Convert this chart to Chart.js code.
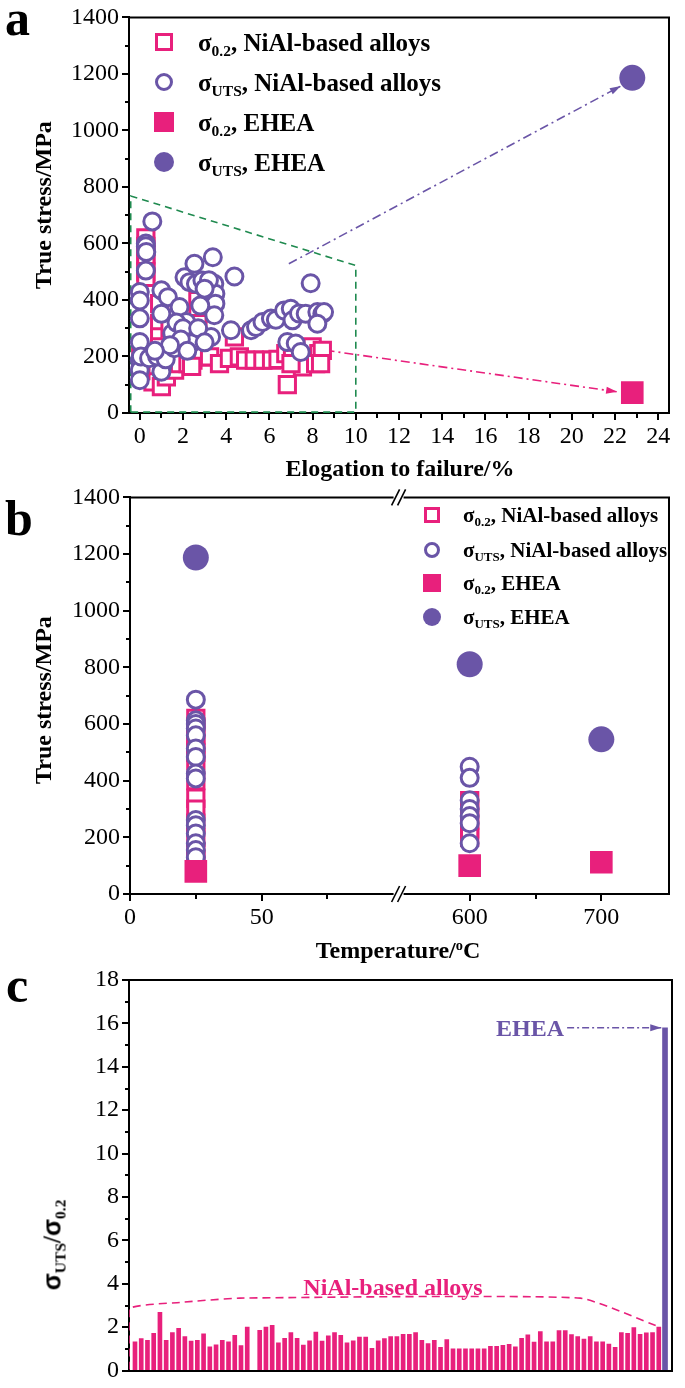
<!DOCTYPE html>
<html>
<head>
<meta charset="utf-8">
<script src="https://cdn.jsdelivr.net/npm/chart.js@4.4.0/dist/chart.umd.min.js"></script>
<style>
  body { margin: 0; background: #fff; }
  #fig { position: relative; width: 685px; height: 1388px; overflow: hidden;
         font-family: "Liberation Serif", "Times New Roman", serif; }
  canvas { position: absolute; left: 0; }
  .txt { position: absolute; white-space: nowrap; font-weight: bold; line-height: 1; }
  .panel { font-size: 50px; }
  .ytitle { font-size: 24px; transform: translate(-50%, -50%) rotate(-90deg); }
  .xtitle { font-size: 24px; transform: translate(-50%, -50%); }
  .row { transform: translateY(-50%); }
  .sans { font-family: "Liberation Sans", Arial, sans-serif; }
  sub { font-size: 0.62em; vertical-align: baseline; position: relative; top: 0.32em; }
  sup { font-size: 0.6em; vertical-align: baseline; position: relative; top: -0.55em; }
  .mk { position: absolute; box-sizing: border-box; transform: translate(-50%, -50%); }
</style>
</head>
<body>
<div id="fig">
  <canvas id="chartA" width="685" height="460" style="top:0"></canvas>
  <canvas id="chartB" width="685" height="460" style="top:480px"></canvas>
  <canvas id="chartC" width="685" height="428" style="top:960px"></canvas>

  <div class="txt panel" style="left:5px;top:-7px">a</div>
  <div class="txt panel" style="left:5px;top:493px">b</div>
  <div class="txt panel" style="left:6px;top:960px">c</div>

  <div class="txt ytitle" style="left:43px;top:205px">True stress/MPa</div>
  <div class="txt xtitle" style="left:400px;top:468px">Elogation to failure/%</div>
  <div class="txt ytitle" style="left:43px;top:700px">True stress/MPa</div>
  <div class="txt xtitle" style="left:398px;top:950px">Temperature/<sup>o</sup>C</div>
  <div class="txt ytitle" style="left:52px;top:1245px;font-size:25px"><span class="sans">σ</span><sub>UTS</sub>/<span class="sans">σ</span><sub>0.2</sub></div>

  <div class="txt xtitle" style="left:393px;top:1287px;color:#e8207c">NiAl-based alloys</div>
  <div class="txt xtitle" style="left:530px;top:1028px;color:#6a55a7">EHEA</div>
</div>

<script>
// ===== colours =====
const PINK = '#e8207c';
const PURPLE = '#6a55a7';
const GREEN = '#1f8a4f';
const FONT = '"Liberation Serif", "Times New Roman", serif';

// ===== panel a: elongation (%) vs true stress (MPa) =====
const yieldElongA = [0.28, 0.28, 0.28, 0.28, 0.28, 0.28, 0.61, 1.0, 1.23, 1.61, 1.84, 2.23, 2.46, 2.61,
  0.92, 0.92, 0.92, 0.92, 2.69, 2.69, 2.69, 2.9, 2.9, 3.23, 3.69, 4.15, 4.61, 4.38, 2.4,
  4.9, 5.3, 5.7, 6.1, 6.4, 6.76, 7.07, 7.45, 7.68, 7.98, 8.29, 8.45, 6.83, 7.53, 8.14, 8.37, 7.0,
  0.05, 0.05, 1.4, 2.0];
const yieldStressA = [620, 590, 560, 530, 500, 480, 110, 93, 128, 152, 175, 175, 187, 205,
  387, 316, 269, 234, 398, 352, 316, 234, 199, 199, 175, 193, 199, 269, 165,
  187, 187, 187, 187, 190, 210, 193, 222, 187, 234, 210, 222, 100, 163, 175, 175, 175,
  150, 200, 300, 250];
const utsElongA = [0.0, 0.0, 0.0, 0.0, 0.0, 0.0, 0.0, 0.05, 0.28, 0.28, 0.3, 0.28, 0.58, 0.43,
  1.0, 1.3, 1.0, 1.06, 1.0, 0.8, 1.2, 1.5, 1.6, 1.84, 2.15, 2.38, 2.07, 2.3, 2.53, 2.6, 2.9,
  3.38, 3.45, 3.5, 3.5, 3.45, 3.3, 4.22, 4.38,
  5.15, 5.38, 5.68, 6.07, 6.3, 6.68, 6.99, 7.07, 7.37, 7.68, 7.91, 8.22, 8.45, 8.53, 8.22, 6.83, 7.22, 7.45,
  1.7, 2.0, 1.9, 2.7, 2.2, 3.0, 1.4, 0.7, 2.8, 3.2, 3.0];
const utsStressA = [428, 398, 335, 251, 187, 152, 116, 200, 600, 590, 570, 504, 678, 194,
  434, 410, 351, 169, 146, 200, 190, 282, 229, 375, 322, 247, 480, 463, 528, 457, 469,
  551, 457, 422, 387, 346, 269, 293, 483,
  293, 304, 322, 334, 330, 363, 369, 328, 352, 351, 459, 357, 351, 357, 316, 251, 246, 216,
  320, 300, 260, 300, 220, 250, 240, 220, 380, 470, 440];
const eheaElongA = [22.8];
const eheaYieldA = [72];
const eheaUtsA = [1186];
// guide lines of panel a (elongation, stress)
const boxElongA = [-0.42, -0.42, 10, 10, -0.42];
const boxStressA = [3, 768, 522, 3, 3];
const utsArrowElong = [6.9, 22.27];
const utsArrowStress = [528, 1157];
const yieldArrowElong = [8.6, 22.1];
const yieldArrowStress = [222, 75];
const xTicksA = [0, 2, 4, 6, 8, 10, 12, 14, 16, 18, 20, 22, 24];
const yTicksStress = [0, 200, 400, 600, 800, 1000, 1200, 1400];

// ===== panel b: temperature (°C) vs true stress (MPa) =====
const tempsB = [25, 600, 700];
const eheaYieldB = [80, 100, 112];
const eheaUtsB = [1188, 811, 546];
const nialYieldRT = [620, 590, 560, 530, 500, 470, 400, 338, 300, 250, 200, 150, 120];
const nialUtsRT = [686, 613, 600, 584, 560, 514, 484, 425, 408, 261, 243, 214, 179, 155, 130];
const nialYield600 = [330, 300, 260, 230, 200];
const nialUts600 = [449, 410, 331, 300, 275, 250, 179];
const xTicksB = [0, 25, 50, 75, 600, 650, 700];
const xTickLabelsB = ['0', '', '50', '', '600', '', '700'];

// ===== panel c: sigma_UTS / sigma_0.2 =====
const ratioNiAl = [1.33, 1.48, 1.40, 1.72, 2.69, 1.40, 1.75, 1.95, 1.57, 1.36, 1.40, 1.70, 1.09, 1.19, 1.40,
  1.33, 1.63, 1.15, 2.00, null,
  1.86, 2.00, 2.09, 1.28, 1.49, 1.75, 1.49, 1.18, 1.37, 1.77, 1.36, 1.60, 1.75, 1.63, 1.28, 1.37,
  1.55, 1.55, 1.03, 1.37, 1.48, 1.57, 1.57, 1.67, 1.67,
  1.75, 1.39, 1.25, 1.40, 1.07, 1.43, 1.0, 1.0, 1.0, 1.0, 1.0, 1.0, 1.12, 1.12, 1.17, 1.21, 1.09,
  1.49, 1.65, 1.31, 1.80, 1.33, 1.33, 1.84, 1.84, 1.66, 1.57, 1.45, 1.57, 1.33, 1.33, 1.22, 1.07,
  1.75, 1.72, 1.98, 1.67, 1.74, 1.75, 2.01];
const ratioEHEA = [15.8];
const envelopeIdx = [-0.96, -0.96, 7.2, 16.8, 71.4, 84.2];
const envelopeRatio = [0.05, 2.84, 3.14, 3.34, 3.34, 2.0];
const eheaArrowIdx = [69.3, 84.4];
const eheaArrowRatio = [15.8, 15.8];
const yTicksRatio = [0, 2, 4, 6, 8, 10, 12, 14, 16, 18];

// legends (label html)
const legendLabels = [
  'σ<sub>0.2</sub>, NiAl-based alloys',
  'σ<sub>UTS</sub>, NiAl-based alloys',
  'σ<sub>0.2</sub>, EHEA',
  'σ<sub>UTS</sub>, EHEA'
];

// ===== helpers =====
const pairs = (xs, ys) => xs.map((x, i) => ({ x: x, y: ys[i] }));

// broken temperature axis: 0-102 full scale, 546-750 half scale
const BREAK_U = 102;
function tMap(t) {
  return t <= BREAK_U ? t : BREAK_U + (t - 546) * 0.5;
}

function stepsBetween(majors, minorStep) {
  const out = [];
  const lo = majors[0], hi = majors[majors.length - 1];
  for (let v = lo; v <= hi + 1e-9; v += minorStep) out.push(Math.round(v * 1000) / 1000);
  return out;
}

function yAxis(min, max, majors, minorStep, width) {
  const all = stepsBetween(majors, minorStep);
  return {
    type: 'linear', position: 'left', min: min, max: max,
    afterFit: s => { s.width = width; },
    afterBuildTicks: s => { s.ticks = all.map(v => ({ value: v })); },
    ticks: {
      autoSkip: false, color: '#000', padding: 3,
      font: { family: FONT, size: 24 },
      callback: v => majors.includes(v) ? String(v) : ''
    },
    grid: {
      drawOnChartArea: false, color: '#000', lineWidth: 2, tickLength: 7,
      tickBorderDash: ctx => (ctx.tick && !majors.includes(ctx.tick.value)) ? [0, 3, 4, 30] : []
    },
    border: { color: '#000', width: 2 }
  };
}

const framePlugin = {
  id: 'frame',
  afterDraw(chart) {
    const { ctx, chartArea: a } = chart;
    ctx.save();
    ctx.strokeStyle = '#000';
    ctx.lineWidth = 2;
    ctx.beginPath();
    ctx.moveTo(a.left - 1, a.top);
    ctx.lineTo(a.right, a.top);
    ctx.lineTo(a.right, a.bottom + 1);
    ctx.stroke();
    ctx.restore();
  }
};

const arrowPlugin = {
  id: 'arrows',
  afterDatasetsDraw(chart) {
    const ctx = chart.ctx;
    chart.data.datasets.forEach((ds, i) => {
      if (!ds.arrow) return;
      const pts = chart.getDatasetMeta(i).data;
      const p1 = pts[pts.length - 2], p2 = pts[pts.length - 1];
      const ang = Math.atan2(p2.y - p1.y, p2.x - p1.x);
      const L = 11, W = 3.5;
      const c = Math.cos(ang), s = Math.sin(ang);
      ctx.save();
      ctx.fillStyle = ds.borderColor;
      ctx.beginPath();
      ctx.moveTo(p2.x, p2.y);
      ctx.lineTo(p2.x - L * c - W * s, p2.y - L * s + W * c);
      ctx.lineTo(p2.x - L * c + W * s, p2.y - L * s - W * c);
      ctx.closePath();
      ctx.fill();
      ctx.restore();
    });
  }
};

const breakPlugin = {
  id: 'axisBreak',
  afterDraw(chart) {
    const { ctx, chartArea: a } = chart;
    const bx = chart.scales.x.getPixelForValue(BREAK_U);
    ctx.save();
    [a.top, a.bottom].forEach(y => {
      ctx.fillStyle = '#fff';
      ctx.fillRect(bx - 5, y - 2, 10, 4);
      ctx.strokeStyle = '#000';
      ctx.lineWidth = 1.6;
      [-3, 3].forEach(dx => {
        ctx.beginPath();
        ctx.moveTo(bx + dx - 4, y + 8);
        ctx.lineTo(bx + dx + 4, y - 8);
        ctx.stroke();
      });
    });
    ctx.restore();
  }
};

const baseOptions = {
  responsive: false,
  animation: false,
  devicePixelRatio: 1,
  plugins: { legend: { display: false }, tooltip: { enabled: false } }
};

function markerSet(label, data, style, radius, color, filled, order) {
  return {
    label: label, data: data, showLine: false, order: order,
    pointStyle: style, pointRadius: radius, pointHoverRadius: radius,
    pointBorderWidth: filled ? 0 : 3,
    pointBorderColor: color,
    pointBackgroundColor: filled ? color : '#fff'
  };
}

function guideLine(data, color, dash, width, order, arrow) {
  return {
    data: data, showLine: true, pointRadius: 0, borderColor: color,
    borderWidth: width, borderDash: dash, fill: false, order: order, arrow: arrow
  };
}

// ===== panel a =====
new Chart(document.getElementById('chartA'), {
  type: 'scatter',
  data: {
    datasets: [
      markerSet('σUTS, EHEA', pairs(eheaElongA, eheaUtsA), 'circle', 13, PURPLE, true, 0),
      markerSet('σ0.2, EHEA', pairs(eheaElongA, eheaYieldA), 'rect', 16, PINK, true, 0),
      markerSet('σUTS, NiAl-based alloys', pairs(utsElongA, utsStressA), 'circle', 8.5, PURPLE, false, 1),
      markerSet('σ0.2, NiAl-based alloys', pairs(yieldElongA, yieldStressA), 'rect', 11.5, PINK, false, 2),
      guideLine(pairs(utsArrowElong, utsArrowStress), PURPLE, [9, 4, 2, 4], 1.6, 3, true),
      guideLine(pairs(yieldArrowElong, yieldArrowStress), PINK, [9, 4, 2, 4], 1.6, 3, true),
      guideLine(pairs(boxElongA, boxStressA), GREEN, [7, 5], 1.6, 4, false)
    ]
  },
  options: Object.assign({}, baseOptions, {
    layout: { padding: { left: 0, right: 13, top: 16, bottom: 0 } },
    scales: {
      x: {
        type: 'linear', position: 'bottom', min: -0.5, max: 24.5,
        afterFit: s => { s.height = 47; },
        afterBuildTicks: s => { s.ticks = stepsBetween(xTicksA, 1).map(v => ({ value: v })); },
        ticks: {
          autoSkip: false, maxRotation: 0, color: '#000', padding: 2,
          font: { family: FONT, size: 24 },
          callback: v => xTicksA.includes(v) ? String(v) : ''
        },
        grid: {
          drawOnChartArea: false, color: '#000', lineWidth: 2, tickLength: 7,
          tickBorderDash: ctx => (ctx.tick && !xTicksA.includes(ctx.tick.value)) ? [4, 30] : []
        },
        border: { color: '#000', width: 2 }
      },
      y: yAxis(0, 1400, yTicksStress, 100, 129)
    }
  }),
  plugins: [arrowPlugin, framePlugin]
});

// ===== panel b =====
const colB = (t, vals) => vals.map(v => ({ x: tMap(t), y: v }));
new Chart(document.getElementById('chartB'), {
  type: 'scatter',
  data: {
    datasets: [
      markerSet('σUTS, EHEA', tempsB.map((t, i) => ({ x: tMap(t), y: eheaUtsB[i] })), 'circle', 13, PURPLE, true, 0),
      markerSet('σ0.2, EHEA', tempsB.map((t, i) => ({ x: tMap(t), y: eheaYieldB[i] })), 'rect', 16, PINK, true, 0),
      markerSet('σUTS, NiAl-based alloys', colB(25, nialUtsRT).concat(colB(600, nialUts600)), 'circle', 8.5, PURPLE, false, 1),
      markerSet('σ0.2, NiAl-based alloys', colB(25, nialYieldRT).concat(colB(600, nialYield600)), 'rect', 11.5, PINK, false, 2)
    ]
  },
  options: Object.assign({}, baseOptions, {
    layout: { padding: { left: 0, right: 13, top: 17, bottom: 0 } },
    scales: {
      x: {
        type: 'linear', position: 'bottom', min: 0, max: tMap(751.4),
        afterFit: s => { s.height = 46; },
        afterBuildTicks: s => { s.ticks = xTicksB.map(t => ({ value: tMap(t) })); },
        ticks: {
          autoSkip: false, maxRotation: 0, color: '#000', padding: 2,
          font: { family: FONT, size: 24 },
          callback: (v, i) => xTickLabelsB[i]
        },
        grid: {
          drawOnChartArea: false, color: '#000', lineWidth: 2, tickLength: 7,
          tickBorderDash: ctx => (xTickLabelsB[ctx.index] === '') ? [4, 30] : []
        },
        border: { color: '#000', width: 2 }
      },
      y: yAxis(0, 1400, yTicksStress, 100, 130)
    }
  }),
  plugins: [framePlugin, breakPlugin]
});

// ===== panel c =====
const barData = [];
ratioNiAl.forEach((v, i) => { if (v !== null) barData.push({ x: i, y: v }); });
new Chart(document.getElementById('chartC'), {
  type: 'bar',
  data: {
    datasets: [
      { type: 'line', data: pairs(eheaArrowIdx, eheaArrowRatio), borderColor: PURPLE, borderWidth: 1.5,
        borderDash: [7, 3, 2, 3], pointRadius: 0, order: 0, arrow: true },
      { type: 'line', data: pairs(envelopeIdx, envelopeRatio), borderColor: PINK, borderWidth: 1.6,
        borderDash: [8, 5], pointRadius: 0, tension: 0.15, order: 1 },
      { label: 'EHEA', data: [{ x: 85, y: ratioEHEA[0] }], backgroundColor: PURPLE,
        barThickness: 5, grouped: false, order: 2 },
      { label: 'NiAl-based alloys', data: barData, backgroundColor: PINK,
        barThickness: 4, grouped: false, order: 3 }
    ]
  },
  options: Object.assign({}, baseOptions, {
    layout: { padding: { left: 0, right: 13, top: 20, bottom: 0 } },
    scales: {
      x: {
        type: 'linear', position: 'bottom', min: -0.96, max: 86.12, offset: false,
        afterFit: s => { s.height = 11; },
        ticks: { display: false },
        grid: { display: false },
        border: { color: '#000', width: 2 }
      },
      y: yAxis(0, 18, yTicksRatio, 1, 129)
    }
  }),
  plugins: [arrowPlugin, framePlugin]
});

// ===== HTML legends (subscripts need real markup) =====
function buildLegend(markerX, textX, rows, fontSize, mkSize, bigSize) {
  const fig = document.getElementById('fig');
  const kinds = [
    { shape: 'sq', filled: false, color: PINK },
    { shape: 'ci', filled: false, color: PURPLE },
    { shape: 'sq', filled: true, color: PINK },
    { shape: 'ci', filled: true, color: PURPLE }
  ];
  rows.forEach((y, i) => {
    const k = kinds[i];
    const m = document.createElement('div');
    m.className = 'mk';
    const size = k.filled ? bigSize : mkSize;
    m.style.left = markerX + 'px';
    m.style.top = y + 'px';
    m.style.width = size + 'px';
    m.style.height = size + 'px';
    m.style.borderRadius = k.shape === 'ci' ? '50%' : '0';
    m.style.background = k.filled ? k.color : '#fff';
    m.style.border = k.filled ? 'none' : ('3px solid ' + k.color);
    fig.appendChild(m);
    const t = document.createElement('div');
    t.className = 'txt row';
    t.style.left = textX + 'px';
    t.style.top = y + 'px';
    t.style.fontSize = fontSize + 'px';
    t.innerHTML = legendLabels[i];
    fig.appendChild(t);
  });
}
buildLegend(164, 198, [42, 82, 122, 162], 25, 18, 20);
buildLegend(432, 463, [515, 550, 583, 617], 21, 16, 18);
</script>
</body>
</html>
